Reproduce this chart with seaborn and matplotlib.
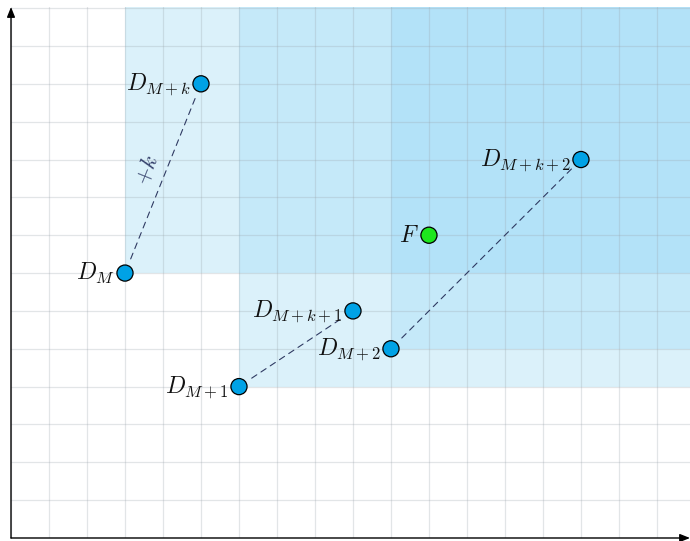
import matplotlib
matplotlib.use("Agg")
import matplotlib.pyplot as plt
import seaborn as sns
import pandas as pd

sns.set_theme(style="white")
plt.rcParams["mathtext.fontset"] = "cm"

# ---- data ----
names = ["D_M", "D_{M+k}", "D_{M+1}", "D_{M+k+1}", "D_{M+2}", "D_{M+k+2}", "F"]
xs = [3, 5, 6, 9, 10, 15, 11]
ys = [7, 12, 4, 6, 5, 10, 8]
kinds = ["D", "D", "D", "D", "D", "D", "F"]
# dashed links (start index, end index)
links = [(0, 1), (2, 3), (4, 5)]
# shaded dominance regions: lower-left corners (x, y) and shade level
regions_x = [3, 6, 6, 10, 10]
regions_y = [7, 4, 7, 5, 7]
regions_level = ["light", "light", "mid", "mid", "dark"]

XMAX, YMAX = 17.87, 14.0

df = pd.DataFrame({"name": names, "x": xs, "y": ys, "kind": kinds})

fig = plt.figure(figsize=(6.9, 5.41), dpi=100)
ax = fig.add_axes([11 / 690, 3 / 541, 679 / 690, 531 / 541])
ax.set_xlim(0, XMAX)
ax.set_ylim(0, YMAX + 0.03)

shade = {"light": "#dbf1fa", "mid": "#c5e9f9", "dark": "#b3e2f8"}
for rx, ry, lv in zip(regions_x, regions_y, regions_level):
    ax.fill_between([rx, XMAX + 1], ry, YMAX + 1, color=shade[lv], lw=0, zorder=0)

# grid
for gx in range(0, 18):
    ax.axvline(gx, color="#9aa4aa", alpha=0.28, lw=0.9, zorder=1)
for gy in range(0, 15):
    ax.axhline(gy, color="#9aa4aa", alpha=0.28, lw=0.9, zorder=1)

# dashed links
for a, b in links:
    ax.annotate("", xy=(xs[b], ys[b]), xytext=(xs[a], ys[a]),
                arrowprops=dict(arrowstyle="-", color="#2f3a62", lw=0.8,
                                linestyle=(0, (5.5, 4.5)), shrinkA=11, shrinkB=9),
                zorder=2)

ax.text(3.55, 9.72, "$+k$", rotation=68, color="#34406b", fontsize=16,
        ha="center", va="center", zorder=3)

# points
sns.scatterplot(data=df, x="x", y="y", hue="kind",
                palette={"D": "#00a2e6", "F": "#1ee61e"},
                s=135, edgecolor="black", linewidth=0.9, legend=False,
                ax=ax, zorder=4, clip_on=False)

# labels
for n, x, y in zip(names, xs, ys):
    ax.annotate(f"${n}$", xy=(x, y), xytext=(-7.5, -5.0), textcoords="offset points",
                ha="right", va="baseline", fontsize=17, color="#111111", zorder=5)

# axes arrows
ax.annotate("", xy=(XMAX, 0), xytext=(0, 0),
            arrowprops=dict(arrowstyle="-|>,head_length=0.5,head_width=0.2", color="black",
                            lw=1.0, shrinkA=0, shrinkB=0), annotation_clip=False, zorder=6)
ax.annotate("", xy=(0, YMAX + 0.03), xytext=(0, 0),
            arrowprops=dict(arrowstyle="-|>,head_length=0.5,head_width=0.2", color="black",
                            lw=1.0, shrinkA=0, shrinkB=0), annotation_clip=False, zorder=6)

for sp in ax.spines.values():
    sp.set_visible(False)
ax.set_xticks([])
ax.set_yticks([])
ax.set_xlabel("")
ax.set_ylabel("")
ax.patch.set_alpha(0)

fig.savefig("out.png", dpi=100)
